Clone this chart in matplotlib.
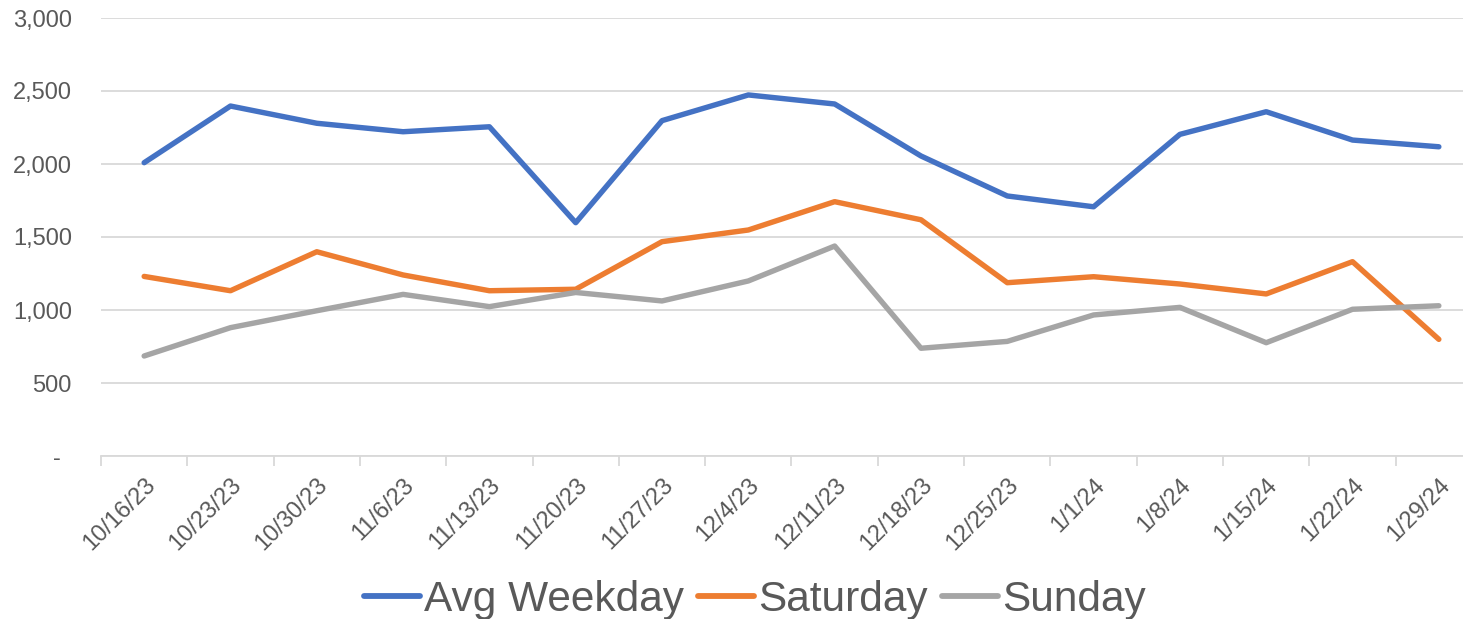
import matplotlib
matplotlib.use("Agg")
import matplotlib.pyplot as plt
import matplotlib.transforms as mtransforms
from matplotlib.ticker import FixedLocator, FuncFormatter

plt.rcParams['font.family'] = ['Liberation Sans', 'DejaVu Sans']

categories = ["10/16/23", "10/23/23", "10/30/23", "11/6/23", "11/13/23", "11/20/23",
              "11/27/23", "12/4/23", "12/11/23", "12/18/23", "12/25/23", "1/1/24",
              "1/8/24", "1/15/24", "1/22/24", "1/29/24"]
avg_weekday = [2009, 2397, 2279, 2221, 2255, 1598, 2297, 2473, 2411, 2055,
               1781, 1707, 2203, 2358, 2164, 2118]
saturday = [1230, 1132, 1399, 1240, 1132, 1142, 1468, 1548, 1742, 1618,
            1187, 1228, 1178, 1110, 1331, 799]
sunday = [685, 879, 995, 1107, 1023, 1120, 1062, 1199, 1438, 738,
          785, 966, 1018, 776, 1005, 1029]
y_ticks = [0, 500, 1000, 1500, 2000, 2500, 3000]

W, H = 1463, 619
fig = plt.figure(figsize=(W / 100, H / 100), dpi=100)
left, right, top, bottom = 101, 1482, 18, 456
ax = fig.add_axes([left / W, 1 - bottom / H, (right - left) / W, (bottom - top) / H])

x = list(range(len(categories)))
series = [("Avg Weekday", avg_weekday, "#4472C4"),
          ("Saturday", saturday, "#ED7D31"),
          ("Sunday", sunday, "#A5A5A5")]
for name, vals, col in series:
    ax.plot(x, vals, color=col, lw=3.9, solid_joinstyle='round',
            solid_capstyle='round', label=name, zorder=3)

ax.set_xlim(-0.5, len(categories) - 0.5)
ax.set_ylim(0, 3000)

ax.yaxis.set_major_locator(FixedLocator(y_ticks))
ax.yaxis.set_major_formatter(FuncFormatter(lambda v, p: "-" if v == 0 else f"{int(v):,}"))
ax.grid(axis='y', color='#D9D9D9', lw=1.3, zorder=0)
ax.tick_params(axis='y', length=0, pad=21, labelsize=17, labelcolor='#595959')
for lbl in ax.get_yticklabels():
    if lbl.get_text() == "-":
        lbl.set_transform(lbl.get_transform() + mtransforms.ScaledTranslation(-0.11, 0, fig.dpi_scale_trans))

ax.set_xticks(x)
ax.set_xticklabels(categories, rotation=45, ha='right', rotation_mode='anchor')
ax.set_xticks([i - 0.5 for i in range(len(categories) + 1)], minor=True)
ax.tick_params(axis='x', which='major', length=0, pad=13, labelsize=17, labelcolor='#595959')
ax.tick_params(axis='x', which='minor', length=7, width=1.3, color='#D9D9D9', direction='out')

for s in ['left', 'right', 'top']:
    ax.spines[s].set_visible(False)
ax.spines['bottom'].set_color('#D9D9D9')
ax.spines['bottom'].set_linewidth(1.3)

leg = fig.legend(loc='center', bbox_to_anchor=(755 / W, 1 - 600 / H), ncol=3,
                 frameon=False, fontsize=30.5, handlelength=1.32, handletextpad=0.1,
                 columnspacing=0.33, borderpad=0)
for t in leg.get_texts():
    t.set_color('#595959')
for h in leg.get_lines():
    h.set_linewidth(4.2)
    h.set_solid_capstyle('round')

fig.savefig("out.png", dpi=100, facecolor='white')
